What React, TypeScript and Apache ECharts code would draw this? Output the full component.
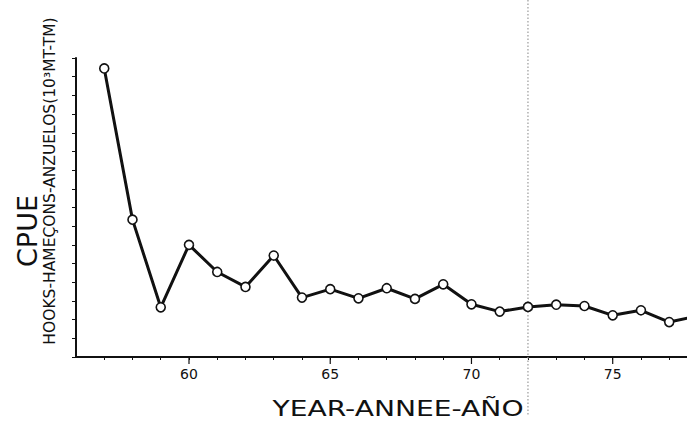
import React, { useEffect, useRef } from "react";
import * as echarts from "echarts";

const years = [57, 58, 59, 60, 61, 62, 63, 64, 65, 66, 67, 68, 69, 70, 71, 72, 73, 74, 75, 76, 77, 78];
const cpue = [15.44, 7.35, 2.66, 6.0, 4.55, 3.75, 5.43, 3.18, 3.63, 3.14, 3.68, 3.11, 3.89, 2.82, 2.43, 2.68, 2.8, 2.73, 2.23, 2.5, 1.87, 2.2];
const majorTickYears = [60, 65, 70, 75];
const markerYear = [72];

const FONT = "DejaVu Sans";

export default function App() {
  const ref = useRef<HTMLDivElement>(null);
  useEffect(() => {
    if (!ref.current) return;
    const chart = echarts.init(ref.current, null, { renderer: "svg" });
    chart.setOption({
      animation: false,
      backgroundColor: "#ffffff",
      grid: { left: 76, right: 0, top: 58, bottom: 70, containLabel: false },
      xAxis: {
        type: "value",
        min: 56,
        max: 77.63,
        interval: 1,
        splitLine: { show: false },
        axisLine: { onZero: false, lineStyle: { color: "#111", width: 2 } },
        axisTick: { show: true, inside: false, length: 3, lineStyle: { color: "#111", width: 1 } },
        axisLabel: {
          margin: 10,
          color: "#111",
          fontFamily: FONT,
          fontSize: 14,
          showMinLabel: false,
          showMaxLabel: false,
          formatter: (v: number) => (Number.isInteger(v) && v % 5 === 0 ? String(v) : ""),
        },
      },
      yAxis: {
        type: "value",
        min: 0,
        max: 16,
        interval: 1,
        splitLine: { show: false },
        axisLine: { show: true, lineStyle: { color: "#111", width: 2 } },
        axisTick: { show: true, inside: false, length: 4, lineStyle: { color: "#111", width: 1 } },
        axisLabel: { show: false },
      },
      graphic: [
        {
          type: "text",
          x: 27,
          y: 231,
          rotation: Math.PI / 2,
          style: { text: "CPUE", fontFamily: FONT, fontSize: 27, fill: "#111", align: "center", verticalAlign: "middle" },
        },
        {
          type: "text",
          x: 50,
          y: 181,
          rotation: Math.PI / 2,
          style: {
            text: "HOOKS-HAMEÇONS-ANZUELOS(10³MT-TM)",
            fontFamily: FONT,
            fontSize: 15.5,
            fill: "#111",
            align: "center",
            verticalAlign: "middle",
          },
        },
        {
          type: "text",
          x: 398,
          y: 409,
          scaleX: 1.28,
          style: { text: "YEAR-ANNEE-AÑO", fontFamily: FONT, fontSize: 22, fill: "#111", align: "center", verticalAlign: "middle" },
        },
      ],
      series: [
        {
          type: "custom",
          clip: false,
          silent: true,
          z: 1,
          data: markerYear.map((y) => [y, 0]),
          renderItem: (params: any, api: any) => {
            const p = api.coord([api.value(0), 0]);
            return {
              type: "line",
              shape: { x1: p[0], y1: 0, x2: p[0], y2: p[1] + 58 },
              style: { stroke: "#9a9a9a", lineWidth: 1.2, lineDash: [1.5, 2] },
            };
          },
        },
        {
          type: "custom",
          clip: false,
          silent: true,
          z: 3,
          data: majorTickYears.map((y) => [y, 0]),
          renderItem: (params: any, api: any) => {
            const p = api.coord([api.value(0), 0]);
            return {
              type: "line",
              shape: { x1: p[0], y1: p[1], x2: p[0], y2: p[1] + 7 },
              style: { stroke: "#111", lineWidth: 1.2 },
            };
          },
        },
        {
          type: "line",
          z: 4,
          clip: true,
          data: years.map((y, i) => [y, cpue[i]]),
          lineStyle: { color: "#111", width: 3 },
          symbol: "circle",
          symbolSize: 9,
          itemStyle: { color: "#ffffff", borderColor: "#111", borderWidth: 1.6 },
        },
      ],
    });
    return () => chart.dispose();
  }, []);
  return <div ref={ref} style={{ position: "absolute", left: 0, top: 0, width: 687, height: 427 }} />;
}
